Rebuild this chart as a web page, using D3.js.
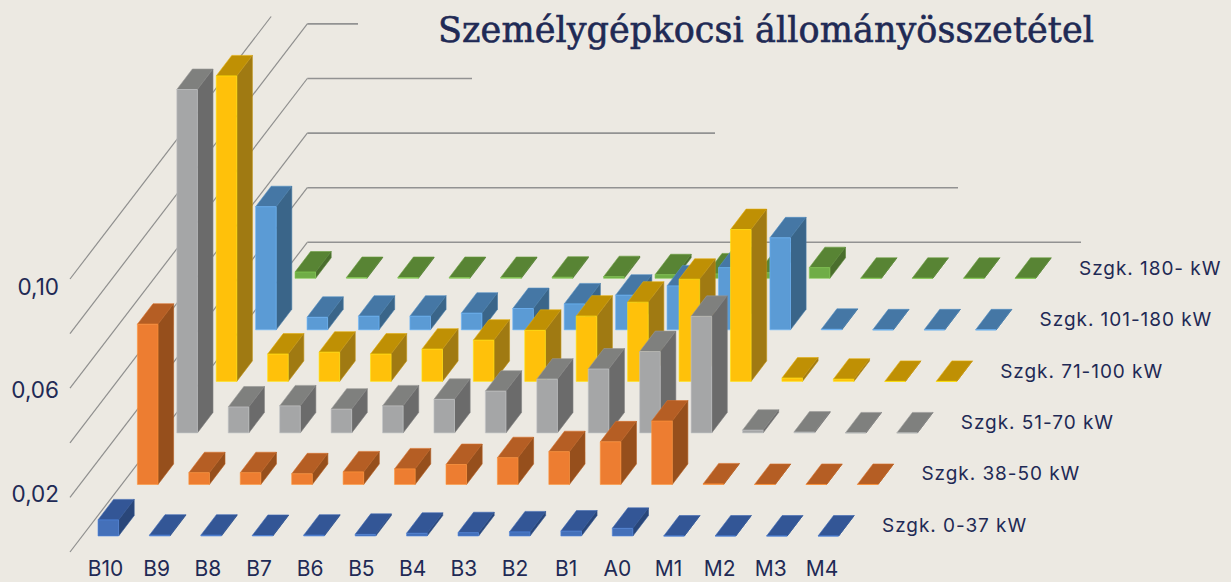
<!DOCTYPE html>
<html>
<head>
<meta charset="utf-8">
<script src="https://cdn.jsdelivr.net/npm/d3@7"></script>
<style>
    html, body { margin: 0; padding: 0; background: #ece9e2; overflow: hidden; }
    svg { display: block; }
    text { fill: #1f2a55; font-family: Inter, "Noto Sans", sans-serif; }
</style>
</head>
<body>
<script>
// categories and the series, front row first
var categories = ["B10", "B9", "B8", "B7", "B6", "B5", "B4", "B3", "B2", "B1", "A0", "M1", "M2", "M3", "M4"];
var seriesNames = ["Szgk. 0-37 kW", "Szgk. 38-50 kW", "Szgk. 51-70 kW", "Szgk. 71-100 kW", "Szgk. 101-180 kW", "Szgk. 180- kW"];
var kw0_37 = [0.0059, 0.0003, 0.0003, 0.0002, 0.0003, 0.0006, 0.001, 0.0012, 0.0015, 0.0018, 0.0028, 0, 0, 0, 0];
var kw38_50 = [0.0587, 0.0043, 0.0043, 0.0039, 0.0046, 0.0057, 0.0073, 0.0098, 0.012, 0.0156, 0.0232, 0.0002, 0, 0, 0];
var kw51_70 = [0.1258, 0.0095, 0.0099, 0.0087, 0.0099, 0.0123, 0.0153, 0.0197, 0.0234, 0.0298, 0.0427, 0.001, 0.0003, 0, 0];
var kw71_100 = [0.1119, 0.01, 0.0107, 0.01, 0.0118, 0.0151, 0.0187, 0.0239, 0.029, 0.0374, 0.0556, 0.0012, 0.0008, 0, 0];
var kw101_180 = [0.0451, 0.0046, 0.005, 0.005, 0.0061, 0.0078, 0.0095, 0.0127, 0.0161, 0.0228, 0.0337, 0.0002, 0, 0, 0];
var kw180 = [0.0023, 0.0003, 0.0003, 0.0003, 0.0003, 0.0004, 0.0006, 0.0013, 0.0016, 0.002, 0.0039, 0, 0, 0, 0];
var allSeries = [kw0_37, kw38_50, kw51_70, kw71_100, kw101_180, kw180];
var tickValues = [0.02, 0.06, 0.10];
var gridValues = [0, 0.02, 0.04, 0.06, 0.08, 0.10];
var gridEnds = [1081, 958, 715, 472, 358, 307]; // where the wall lines stop

// face colours per series
var frontColors = ["#4470b9", "#ed7d31", "#a5a6a7", "#ffc10a", "#5b9bd5", "#70ad47"];
var topColors = ["#335696", "#b55e24", "#7f807e", "#bf9004", "#4577a5", "#588434"];
var sideColors = ["#294679", "#964f1c", "#6b6b6b", "#a07a12", "#3a6589", "#4a6e2d"];

var w = 1231;
var h = 582;
var barW = 20.6;
var depthX = 15.6;
var depthY = 20.5;

var svg = d3.select("body")
    .append("svg")
    .attr("width", w)
    .attr("height", h);

svg.append("rect")
    .attr("width", w)
    .attr("height", h)
    .attr("fill", "#ece9e2");

// scales: column along x, row goes back and to the right, value goes up
var colX = d3.scaleLinear().domain([0, 14]).range([98, 818]);
var rowX = d3.scaleLinear().domain([0, 5]).range([0, 197]);
var rowY = d3.scaleLinear().domain([0, 5]).range([536, 278.3]);
var valueH = d3.scaleLinear().domain([0, 0.1]).range([0, 273]);
var frontWall = d3.scaleLinear().domain([0, 0.1]).range([552, 279]);
var backWall = d3.scaleLinear().domain([0, 0.1]).range([242.3, -30.7]);
var labelY = d3.scaleLinear().domain([0.02, 0.1]).range([501.7, 295]);
var catX = d3.scaleLinear().domain([0, 14]).range([105.5, 822]);
var line = d3.line();

// wall grid lines
var topClip = 16.5;
gridValues.forEach(function(v, i) {
    var x0 = 70, y0 = frontWall(v), x1 = 307.3, y1 = backWall(v);
    var clipped = y1 < topClip;
    if (clipped) {
        x1 = x0 + (x1 - x0) * (y0 - topClip) / (y0 - y1);
        y1 = topClip;
    }
    svg.append("path")
        .attr("d", line([[x0, y0], [x1, y1]]))
        .attr("fill", "none")
        .attr("stroke", "#8f8f8e")
        .attr("stroke-width", 1.2);
    if (!clipped) {
        svg.append("path")
            .attr("d", line([[x1, y1], [gridEnds[i], y1]]))
            .attr("fill", "none")
            .attr("stroke", "#929292")
            .attr("stroke-width", 1.6);
    }
});

// one bar = top, side, front
function drawBar(g, x, base, value, r) {
    var bh = valueH(value);
    var t = base - bh;
    var faces = [
        { pts: [[x, t], [x + depthX, t - depthY], [x + barW + depthX, t - depthY], [x + barW, t]], color: topColors[r] },
        { pts: [[x + barW, t], [x + barW + depthX, t - depthY], [x + barW + depthX, base - depthY], [x + barW, base]], color: sideColors[r] },
        { pts: [[x, t], [x + barW, t], [x + barW, base], [x, base]], color: frontColors[r] }
    ];
    faces.forEach(function(f) {
        g.append("path")
            .attr("d", line(f.pts) + "Z")
            .attr("fill", f.color)
            .attr("stroke", d3.color(f.color).brighter(0.5))
            .attr("stroke-width", 0.6);
    });
}

// back row first so front rows cover it
d3.range(5, -1, -1).forEach(function(r) {
    var g = svg.append("g").attr("class", "row");
    allSeries[r].forEach(function(v, c) {
        drawBar(g, colX(c) + rowX(r), rowY(r), v, r);
    });
});

// value labels
svg.selectAll("text.tick")
    .data(tickValues)
    .enter()
    .append("text")
    .attr("class", "tick")
    .attr("x", 59)
    .attr("y", function(d) { return labelY(d); })
    .attr("text-anchor", "end")
    .attr("font-size", 22.5)
    .text(function(d) { return d.toFixed(2).replace(".", ","); });

// category labels
svg.selectAll("text.cat")
    .data(categories)
    .enter()
    .append("text")
    .attr("class", "cat")
    .attr("x", function(d, i) { return catX(i); })
    .attr("y", 576)
    .attr("text-anchor", "middle")
    .attr("font-size", 21)
    .text(function(d) { return d; });

// series names next to the last bar of each row
var nameY = d3.scaleLinear().domain([0, 5]).range([531.7, 275]);
var nameX = d3.scaleLinear().domain([0, 5]).range([882, 1079]);
svg.selectAll("text.series")
    .data(seriesNames)
    .enter()
    .append("text")
    .attr("class", "series")
    .attr("x", function(d, i) { return nameX(i); })
    .attr("y", function(d, i) { return nameY(i); })
    .attr("font-size", 19)
    .attr("letter-spacing", 0.95)
    .text(function(d) { return d; });

svg.append("text")
    .attr("x", 438)
    .attr("y", 42)
    .attr("font-size", 35)
    .style("font-family", "'DejaVu Serif', serif")
    .style("stroke", "#1f2a55")
    .style("stroke-width", 0.6)
    .attr("textLength", 656)
    .text("Személygépkocsi állományösszetétel");
</script>
</body>
</html>
